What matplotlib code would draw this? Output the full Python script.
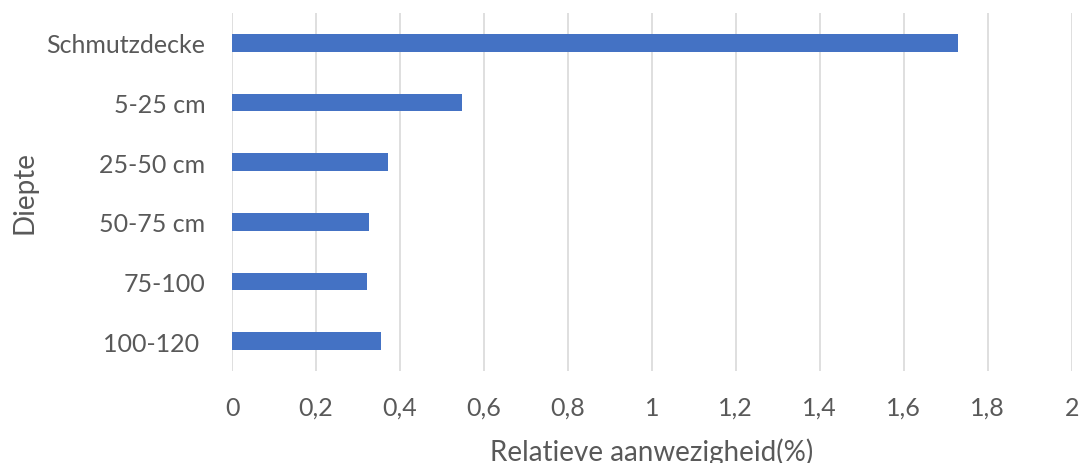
import matplotlib
matplotlib.use("Agg")
import matplotlib.pyplot as plt
from matplotlib.ticker import FixedLocator

categories = ["Schmutzdecke", "5-25 cm", "25-50 cm", "50-75 cm", "75-100", "100-120 "]
values = [1.728, 0.549, 0.372, 0.327, 0.321, 0.355]
xticks = [0, 0.2, 0.4, 0.6, 0.8, 1.0, 1.2, 1.4, 1.6, 1.8, 2.0]
xtick_labels = ["0", "0,2", "0,4", "0,6", "0,8", "1", "1,2", "1,4", "1,6", "1,8", "2"]

plt.rcParams['font.family'] = ['Lato', 'DejaVu Sans']
text_color = "#595959"

fig = plt.figure(figsize=(10.8, 4.64), dpi=100)
ax = fig.add_axes([232/1080, 1 - 372/464, (1071.7 - 232)/1080, (372 - 14)/464])

ypos = list(range(len(categories)))[::-1]
ax.barh(ypos, values, height=0.3, color="#4472C4", zorder=3)

ax.set_xlim(0, 2)
ax.set_ylim(-0.5, len(categories) - 0.5)
ax.xaxis.set_major_locator(FixedLocator(xticks))
ax.set_xticklabels(xtick_labels)
ax.set_yticks(ypos)
ax.set_yticklabels(categories)

ax.grid(axis="x", color="#d9d9d9", linewidth=1.2, zorder=0)
for s in ["top", "right", "bottom", "left"]:
    ax.spines[s].set_visible(False)
ax.tick_params(axis="both", length=0, labelsize=18, colors=text_color)
ax.tick_params(axis="x", pad=18)
ax.tick_params(axis="y", pad=19)

ax.set_xlabel("Relatieve aanwezigheid(%)", fontsize=20, color=text_color, va="center")
ax.set_ylabel("Diepte", fontsize=20, color=text_color, va="center", ha="center")
ax.xaxis.set_label_coords(0.5, -(452 - 372) / 358)
ax.yaxis.set_label_coords(-(232 - 25) / 839.7, 0.5)

fig.savefig("out.png", dpi=100)
